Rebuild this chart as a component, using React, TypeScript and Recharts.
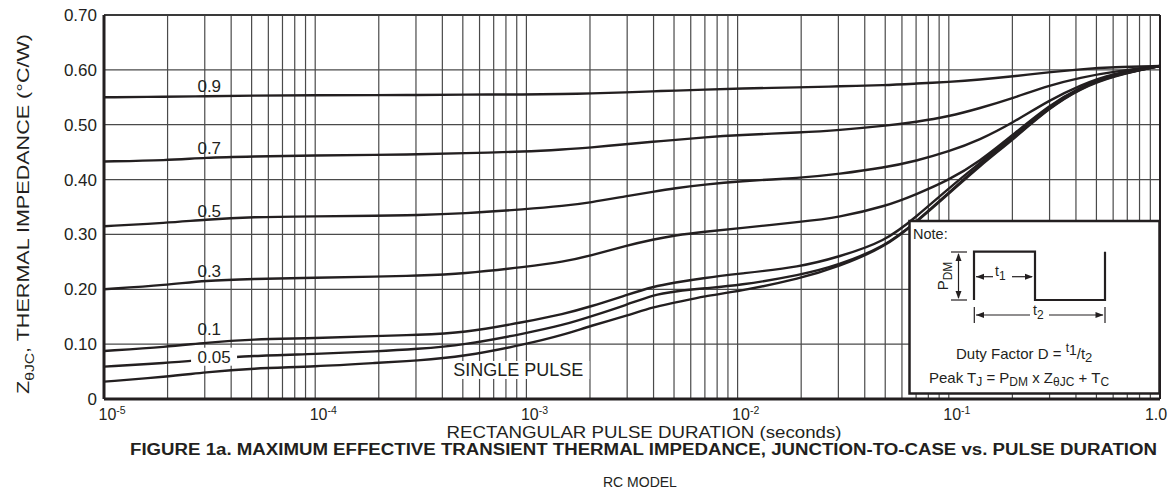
import React from 'react';
import {
  LineChart,
  Line,
  XAxis,
  YAxis,
  CartesianGrid,
  ReferenceLine,
  ReferenceDot,
} from 'recharts';

// pulse durations (seconds) shared by every curve
const durations = [
  1e-5, 2e-5, 3e-5, 5e-5, 1e-4, 2e-4, 3e-4, 5e-4, 1e-3, 1.5e-3, 2e-3, 3e-3, 4e-3,
  5e-3, 7e-3, 1e-2, 2e-2, 3e-2, 5e-2, 7e-2, 0.1, 0.14, 0.2, 0.3, 0.42, 0.6, 1.0,
];

// Z(theta JC) in °C/W for each duty factor
const duty09 = [0.55, 0.551, 0.552, 0.553, 0.554, 0.554, 0.554, 0.555, 0.555, 0.556, 0.557, 0.559, 0.561, 0.562, 0.564, 0.566, 0.568, 0.57, 0.572, 0.575, 0.578, 0.582, 0.588, 0.596, 0.601, 0.605, 0.607];
const duty07 = [0.433, 0.435, 0.44, 0.442, 0.444, 0.445, 0.446, 0.448, 0.451, 0.455, 0.458, 0.465, 0.469, 0.472, 0.477, 0.481, 0.486, 0.49, 0.498, 0.505, 0.515, 0.53, 0.548, 0.572, 0.586, 0.597, 0.607];
const duty05 = [0.315, 0.321, 0.327, 0.332, 0.333, 0.334, 0.335, 0.338, 0.346, 0.352, 0.358, 0.37, 0.378, 0.384, 0.391, 0.397, 0.403, 0.41, 0.422, 0.434, 0.451, 0.472, 0.503, 0.545, 0.572, 0.594, 0.607];
const duty03 = [0.2, 0.208, 0.216, 0.219, 0.221, 0.223, 0.225, 0.228, 0.241, 0.25, 0.261, 0.28, 0.291, 0.298, 0.305, 0.311, 0.323, 0.331, 0.351, 0.373, 0.399, 0.433, 0.481, 0.536, 0.569, 0.592, 0.607];
const duty01 = [0.0875, 0.095, 0.1026, 0.109, 0.1106, 0.115, 0.117, 0.12, 0.141, 0.155, 0.168, 0.19, 0.205, 0.212, 0.221, 0.228, 0.241, 0.259, 0.287, 0.332, 0.384, 0.43, 0.478, 0.534, 0.568, 0.591, 0.607];
const duty005 = [0.059, 0.0656, 0.072, 0.079, 0.082, 0.087, 0.091, 0.098, 0.12, 0.135, 0.15, 0.172, 0.19, 0.196, 0.202, 0.2067, 0.226, 0.244, 0.278, 0.323, 0.376, 0.427, 0.474, 0.532, 0.567, 0.59, 0.607];
const singlePulse = [0.0316, 0.0407, 0.0486, 0.056, 0.059, 0.066, 0.07, 0.077, 0.1, 0.117, 0.133, 0.152, 0.168, 0.175, 0.188, 0.1956, 0.22, 0.241, 0.277, 0.322, 0.374, 0.425, 0.472, 0.531, 0.566, 0.589, 0.607];

const series = [
  { key: 'd09', values: duty09 },
  { key: 'd07', values: duty07 },
  { key: 'd05', values: duty05 },
  { key: 'd03', values: duty03 },
  { key: 'd01', values: duty01 },
  { key: 'd005', values: duty005 },
  { key: 'single', values: singlePulse },
];

// curve labels: [text, x, y, white box]
const curveLabels: [string, number, number, boolean][] = [
  ['0.9', 3.15e-5, 0.5706, false],
  ['0.7', 3.15e-5, 0.4576, false],
  ['0.5', 3.15e-5, 0.3427, false],
  ['0.3', 3.15e-5, 0.2339, false],
  ['0.1', 3.15e-5, 0.127, false],
  ['0.05', 3.32e-5, 0.0771, true],
  ['SINGLE PULSE', 9.16e-4, 0.0529, true],
];

const decadeTicks = [1e-5, 1e-4, 1e-3, 1e-2, 1e-1, 1];
const xTicks: number[] = [];
decadeTicks.slice(0, -1).forEach((d) => {
  for (let m = 1; m < 10; m++) xTicks.push(+(d * m).toPrecision(3));
});
xTicks.push(1);
const yTicks = [0, 0.1, 0.2, 0.3, 0.4, 0.5, 0.6, 0.7];

const data = durations.map((x, i) => {
  const row: any = { x };
  series.forEach((s) => (row[s.key] = s.values[i]));
  return row;
});

const INK = '#231f20';
const FONT = '"Liberation Sans", Arial, Helvetica, sans-serif';

const XTick = ({ x, y, payload }: any) => {
  const v = payload.value;
  const exp = Math.round(Math.log10(v));
  if (Math.abs(Math.log10(v) - exp) > 1e-6) return null;
  if (exp === 0) {
    return (
      <text x={x - 4} y={y + 13} textAnchor="middle" fontSize={16} fill={INK} fontFamily={FONT}>
        1.0
      </text>
    );
  }
  return (
    <text x={x - 5.5} y={y + 13} textAnchor="start" fontSize={16} fill={INK} fontFamily={FONT}>
      10
      <tspan fontSize={10.5} dy={-6}>{exp}</tspan>
    </text>
  );
};

const YTick = ({ x, y, payload }: any) => (
  <text x={x} y={y + 6} textAnchor="end" fontSize={17} fill={INK} fontFamily={FONT}>
    {payload.value === 0 ? '0' : payload.value.toFixed(2)}
  </text>
);

const CurveLabel = ({ cx, cy, text, boxed }: any) => {
  const w = text.length > 5 ? 142 : 46;
  return (
    <g>
      {boxed && <rect x={cx - w / 2} y={cy - 9} width={w} height={18} fill="#fff" />}
      <text x={cx} y={cy + 6} textAnchor="middle" fontSize={text.length > 5 ? 18 : 17} fill={INK} fontFamily={FONT}>
        {text}
      </text>
    </g>
  );
};

const Arrow = ({ x, y, dir }: { x: number; y: number; dir: 'l' | 'r' | 'u' | 'd' }) => {
  const p =
    dir === 'l' ? `${x},${y} ${x + 8},${y - 3} ${x + 8},${y + 3}` :
    dir === 'r' ? `${x},${y} ${x - 8},${y - 3} ${x - 8},${y + 3}` :
    dir === 'u' ? `${x},${y} ${x - 3},${y + 8} ${x + 3},${y + 8}` :
    `${x},${y} ${x - 3},${y - 8} ${x + 3},${y - 8}`;
  return <polygon points={p} fill={INK} />;
};

const NoteBox = () => (
  <g fontFamily={FONT} fill={INK}>
    <rect x={909.5} y={221} width={250} height={172.5} fill="#fff" stroke={INK} strokeWidth={2.5} />
    <text x={913} y={239} fontSize={14.5}>Note:</text>
    <path d="M974,300 V251.7 H1035 V300 H1105 V251.7" fill="none" stroke={INK} strokeWidth={2.2} />
    {/* P_DM height arrow */}
    <line x1={951} x2={967} y1={252} y2={252} stroke={INK} strokeWidth={1.2} />
    <line x1={951} x2={967} y1={300} y2={300} stroke={INK} strokeWidth={1.2} />
    <line x1={958.5} x2={958.5} y1={254} y2={298} stroke={INK} strokeWidth={1.2} />
    <Arrow x={958.5} y={253} dir="u" />
    <Arrow x={958.5} y={299} dir="d" />
    <text transform="translate(948,276) rotate(-90)" textAnchor="middle" fontSize={15}>
      P<tspan fontSize={12} dy={4}>DM</tspan>
    </text>
    {/* t1 */}
    <line x1={976} x2={993} y1={276.7} y2={276.7} stroke={INK} strokeWidth={1.2} />
    <line x1={1012} x2={1032} y1={276.7} y2={276.7} stroke={INK} strokeWidth={1.2} />
    <Arrow x={976} y={276.7} dir="l" />
    <Arrow x={1033} y={276.7} dir="r" />
    <text x={995} y={276} fontSize={14}>
      t<tspan fontSize={12} dy={4}>1</tspan>
    </text>
    {/* t2 */}
    <line x1={974.3} x2={974.3} y1={307} y2={323} stroke={INK} strokeWidth={1.2} />
    <line x1={1105} x2={1105} y1={307} y2={323} stroke={INK} strokeWidth={1.2} />
    <line x1={976} x2={1030} y1={315} y2={315} stroke={INK} strokeWidth={1.2} />
    <line x1={1049} x2={1103} y1={315} y2={315} stroke={INK} strokeWidth={1.2} />
    <Arrow x={976} y={315} dir="l" />
    <Arrow x={1103.5} y={315} dir="r" />
    <text x={1033} y={315} fontSize={14}>
      t<tspan fontSize={12} dy={4}>2</tspan>
    </text>
    <text x={956} y={359} fontSize={15}>
      Duty Factor D = <tspan fontSize={12} dy={-7}>t</tspan>
      <tspan fontSize={14} dy={3}>1</tspan>
      <tspan dy={4}>/t</tspan>
      <tspan fontSize={13} dy={3}>2</tspan>
    </text>
    <text x={929} y={383} fontSize={15}>
      Peak T<tspan fontSize={12} dy={3}>J</tspan>
      <tspan dy={-3}> = P</tspan>
      <tspan fontSize={12} dy={3}>DM</tspan>
      <tspan dy={-3}> x Z</tspan>
      <tspan fontSize={12} dy={3}>θJC</tspan>
      <tspan dy={-3}> + T</tspan>
      <tspan fontSize={12} dy={3}>C</tspan>
    </text>
  </g>
);

export default function App() {
  return (
    <div style={{ position: 'absolute', left: 0, top: 0, width: 1170, height: 489, background: '#fff' }}>
      <LineChart width={1170} height={489} data={data} margin={{ top: 15, right: 10, bottom: 60, left: 44 }}>
        <CartesianGrid stroke="#4a4a4a" strokeWidth={1.2} />
        <XAxis
          dataKey="x"
          type="number"
          scale="log"
          domain={[1e-5, 1]}
          allowDataOverflow
          ticks={xTicks}
          interval={0}
          height={30}
          tickLine={false}
          axisLine={{ stroke: INK, strokeWidth: 3 }}
          tick={<XTick />}
        />
        <YAxis
          type="number"
          domain={[0, 0.7]}
          ticks={yTicks}
          interval={0}
          width={60}
          tickLine={false}
          tickSize={7}
          tickMargin={0}
          axisLine={{ stroke: INK, strokeWidth: 3 }}
          tick={<YTick />}
        />
        <ReferenceLine y={0.7} stroke="#3a3a3a" strokeWidth={2} />
        <ReferenceLine x={1} stroke={INK} strokeWidth={2} />
        {series.map((s) => (
          <Line
            key={s.key}
            dataKey={s.key}
            type="basis"
            stroke={INK}
            strokeWidth={2.4}
            dot={false}
            activeDot={false}
            isAnimationActive={false}
          />
        ))}
        {curveLabels.map(([text, x, y, boxed]) => (
          <ReferenceDot
            key={text}
            x={x}
            y={y}
            r={0}
            zIndex={2100}
            shape={(p: any) => <CurveLabel cx={p.cx} cy={p.cy} text={text} boxed={boxed} />}
          />
        ))}
      </LineChart>
      <svg width={1170} height={489} style={{ position: 'absolute', left: 0, top: 0, pointerEvents: 'none' }}>
        <NoteBox />
        <text
          transform="translate(29,214) rotate(-90)"
          textAnchor="middle"
          fontSize={16.5}
          fill={INK}
          fontFamily={FONT}
          textLength={360}
          lengthAdjust="spacingAndGlyphs"
        >
          Z<tspan fontSize={12} dy={5}>θJC</tspan>
          <tspan dy={-5}>, THERMAL IMPEDANCE (°C/W)</tspan>
        </text>
        <text x={644} y={438} textAnchor="middle" fontSize={16.5} fill={INK} fontFamily={FONT} textLength={395} lengthAdjust="spacingAndGlyphs">
          RECTANGULAR PULSE DURATION (seconds)
        </text>
        <text x={643.5} y={455} textAnchor="middle" fontSize={16} fontWeight="bold" fill={INK} fontFamily={FONT} textLength={1027} lengthAdjust="spacingAndGlyphs">
          FIGURE 1a. MAXIMUM EFFECTIVE TRANSIENT THERMAL IMPEDANCE, JUNCTION-TO-CASE vs. PULSE DURATION
        </text>
        <text x={603} y={487} fontSize={14} fill={INK} fontFamily={FONT}>
          RC MODEL
        </text>
      </svg>
    </div>
  );
}
